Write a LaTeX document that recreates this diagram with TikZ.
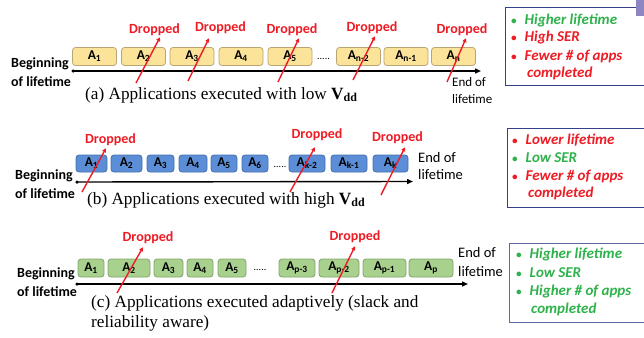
\documentclass[tikz,border=0pt]{standalone}
\usepackage{fontspec}
\setmainfont{Liberation Serif}
\newfontfamily\calib{Carlito}
\usetikzlibrary{arrows.meta}
\definecolor{dropred}{HTML}{EE1C25}
\definecolor{goodgreen}{HTML}{2EB24B}
\definecolor{yfill}{HTML}{FBE39A}
\definecolor{ydraw}{HTML}{B9A672}
\definecolor{bfill}{HTML}{5B8ED6}
\definecolor{bdraw}{HTML}{4671AE}
\definecolor{gfill}{HTML}{A9D18E}
\definecolor{gdraw}{HTML}{7FA46A}
\definecolor{framec}{HTML}{34418A}
\definecolor{framec2}{HTML}{5A6A9E}
\definecolor{tabc}{HTML}{8E86C2}
\tikzset{
  app/.style={rounded corners=3pt, line width=0.8pt, inner sep=0pt,
    font=\calib\bfseries\fontsize{13.5}{13.5}\selectfont, text=black},
  yapp/.style={app, fill=yfill, draw=ydraw, minimum width=44pt, minimum height=18pt},
  bapp/.style={app, fill=bfill, draw=bdraw, minimum height=17pt},
  gapp/.style={app, fill=gfill, draw=gdraw, minimum height=18pt},
  drop/.style={font=\calib\bfseries\fontsize{14}{14}\selectfont, text=dropred, inner sep=1pt},
  droparrow/.style={draw=dropred, line width=1.4pt, -{Triangle[length=4pt,width=4pt]}},
  timeline/.style={line width=1.4pt, -{Triangle[length=6pt,width=5pt]}},
  startdot/.style={circle, fill=black, inner sep=0pt, minimum size=3.5pt},
  beginlbl/.style={font=\calib\bfseries\fontsize{14}{19}\selectfont, align=left, anchor=west, inner sep=0pt},
  endlbl/.style={font=\calib\fontsize{13}{17}\selectfont, align=left, anchor=west, inner sep=0pt},
  capt/.style={font=\fontsize{17.2}{20}\selectfont, anchor=west, inner sep=0pt, align=left},
  dots/.style={font=\calib\fontsize{10}{10}\selectfont, inner sep=0pt},
  infobox/.style={draw=framec, line width=1.1pt, fill=white},
  bul/.style={font=\calib\bfseries\itshape\fontsize{15}{18}\selectfont, anchor=west, inner sep=0pt},
}
\newcommand{\vdd}{\textbf{V}\raisebox{-0.3ex}{\fontsize{12}{12}\selectfont\bfseries dd}}
\newcommand{\bulitem}[1]{{\fontsize{11}{11}\selectfont\textbullet}\hspace{8pt}#1}
\begin{document}
\begin{tikzpicture}[x=1pt, y=-1pt]
\useasboundingbox (0,0) rectangle (644,337);
\clip (0,0) rectangle (644,337);
\fill[white] (0,0) rectangle (644,337);

% ---------------- (a) low Vdd ----------------
\node[yapp] (a1) at (94.5,56.5) {A\textsubscript{1}};
\node[yapp] (a2) at (143.5,56.5) {A\textsubscript{2}};
\node[yapp] (a3) at (192,56.5) {A\textsubscript{3}};
\node[yapp] (a4) at (241,56.5) {A\textsubscript{4}};
\node[yapp] (a5) at (290,56.5) {A\textsubscript{5}};
\node[dots] (adots) at (323.5,59) {.....};
\node[yapp] (an2) at (358.5,56.5) {A\textsubscript{n-2}};
\node[yapp] (an1) at (406,56.5) {A\textsubscript{n-1}};
\node[yapp] (an) at (453.5,56.5) {A\textsubscript{n}};

\node[startdot] (as) at (73,71) {};
\coordinate (ae) at (481,71);
\draw[timeline] (as.center) -- (ae);
\node[beginlbl] (ab) at (11,72.5) {Beginning\\of lifetime};
\node[endlbl] (aend) at (452,91) {End of\\lifetime};
\node[capt] (acap) at (85,95) {(a) Applications executed with low \vdd};

\node[drop] (ad1) at (154.5,30) {Dropped};
\node[drop] (ad2) at (220.5,28) {Dropped};
\node[drop] (ad3) at (292,30) {Dropped};
\node[drop] (ad4) at (372,28) {Dropped};
\node[drop] (ad5) at (462,30) {Dropped};
\coordinate (at1) at (136,83);
\coordinate (at2) at (188,81);
\coordinate (at3) at (278,82);
\coordinate (at4) at (353,80);
\coordinate (at5) at (447,82);
\draw[droparrow] (at1) -- ([xshift=5.5pt]ad1.south);
\draw[droparrow] (at2) -- ([xshift=-11.5pt,yshift=-3pt]ad2.south);
\draw[droparrow] (at3) -- ([xshift=7pt,yshift=-1pt]ad3.south);
\draw[droparrow] (at4) -- ([xshift=3pt,yshift=-1pt]ad4.south);
\draw[droparrow] (at5) -- ([xshift=4pt,yshift=-1pt]ad5.south);

\node[infobox, minimum width=160pt, minimum height=78pt, anchor=north west] (ia) at (505,7) {};
\fill[tabc] (636,0) rectangle (646,16);
\node[bul, text=goodgreen] (ia1) at (511,20) {\bulitem{Higher lifetime}};
\node[bul, text=dropred] (ia2) at (511,38) {\bulitem{High SER}};
\node[bul, text=dropred] (ia3) at (511,56) {\bulitem{Fewer \# of apps}};
\node[bul, text=dropred] (ia4) at (527,73) {completed};

% ---------------- (b) high Vdd ----------------
\node[bapp, minimum width=31pt] (b1) at (91.5,163.5) {A\textsubscript{1}};
\node[bapp, minimum width=31pt] (b2) at (126.5,163.5) {A\textsubscript{2}};
\node[bapp, minimum width=27pt] (b3) at (160.5,163.5) {A\textsubscript{3}};
\node[bapp, minimum width=28pt] (b4) at (193,163.5) {A\textsubscript{4}};
\node[bapp, minimum width=26pt] (b5) at (224,163.5) {A\textsubscript{5}};
\node[bapp, minimum width=26pt] (b6) at (255,163.5) {A\textsubscript{6}};
\node[dots] (bdots) at (280,167) {.....};
\node[bapp, minimum width=36pt] (bk2) at (307,163.5) {A\textsubscript{k-2}};
\node[bapp, minimum width=36pt] (bk1) at (349,163.5) {A\textsubscript{k-1}};
\node[bapp, minimum width=35pt] (bk) at (390.5,163.5) {A\textsubscript{k}};

\node[startdot] (bs) at (77,182) {};
\coordinate (be) at (413,181.5);
\draw[timeline] (bs.center) -- (be);
\node[beginlbl] (bb) at (15,184) {Beginning\\of lifetime};
\node[endlbl, font=\calib\fontsize{14.5}{17}\selectfont] (bend) at (418,166.5) {End of\\lifetime};
\node[capt] (bcap) at (87,200) {(b) Applications executed with high \vdd};

\node[drop] (bd1) at (110.5,140) {Dropped};
\node[drop] (bd2) at (317,135) {Dropped};
\node[drop] (bd3) at (397.5,138) {Dropped};
\coordinate (bt1) at (82,192);
\coordinate (bt2) at (290,192);
\coordinate (bt3) at (381,195);
\draw[droparrow] (bt1) -- ([xshift=-4.5pt,yshift=-1pt]bd1.south);
\draw[droparrow] (bt2) -- ([xshift=-2pt,yshift=-5pt]bd2.south);
\draw[droparrow] (bt3) -- ([xshift=7.5pt,yshift=-2pt]bd3.south);

\node[infobox, minimum width=160pt, minimum height=79pt, anchor=north west] (ib) at (507,128) {};
\node[bul, text=dropred] (ib1) at (512,140) {\bulitem{Lower lifetime}};
\node[bul, text=goodgreen] (ib2) at (512,158) {\bulitem{Low SER}};
\node[bul, text=dropred] (ib3) at (512,176) {\bulitem{Fewer \# of apps}};
\node[bul, text=dropred] (ib4) at (528,193) {completed};

% ---------------- (c) adaptive ----------------
\node[gapp, minimum width=26pt] (c1) at (91,268) {A\textsubscript{1}};
\node[gapp, minimum width=42pt] (c2) at (129,268) {A\textsubscript{2}};
\node[gapp, minimum width=29pt] (c3) at (168.5,268) {A\textsubscript{3}};
\node[gapp, minimum width=26pt] (c4) at (200,268) {A\textsubscript{4}};
\node[gapp, minimum width=28pt] (c5) at (232,268) {A\textsubscript{5}};
\node[dots] (cdots) at (260,270) {.....};
\node[gapp, minimum width=36pt] (cp3) at (297,268) {A\textsubscript{p-3}};
\node[gapp, minimum width=40pt] (cp2) at (339,268) {A\textsubscript{p-2}};
\node[gapp, minimum width=43pt] (cp1) at (384.5,268) {A\textsubscript{p-1}};
\node[gapp, minimum width=44pt] (cp) at (431,268) {A\textsubscript{p}};

\node[startdot] (cs) at (77,284) {};
\coordinate (ce) at (468,284);
\draw[timeline] (cs.center) -- (ce);
\node[beginlbl] (cb) at (17,282.5) {Beginning\\of lifetime};
\node[endlbl, font=\calib\fontsize{14.5}{19}\selectfont] (cend) at (458,262.5) {End of\\lifetime};
\node[capt] (ccap) at (91,313) {(c) Applications executed adaptively (slack and\\reliability aware)};

\node[drop] (cd1) at (148,238) {Dropped};
\node[drop] (cd2) at (355,237) {Dropped};
\coordinate (ct1) at (117,293);
\coordinate (ct2) at (332,293);
\draw[droparrow] (ct1) -- ([xshift=-5pt,yshift=-2pt]cd1.south);
\draw[droparrow] (ct2) -- ([xshift=0pt,yshift=-2pt]cd2.south);

\node[infobox, draw=framec2, minimum width=160pt, minimum height=79pt, anchor=north west] (ic) at (509,243) {};
\node[bul, text=goodgreen] (ic1) at (516,254) {\bulitem{Higher lifetime}};
\node[bul, text=goodgreen] (ic2) at (516,273) {\bulitem{Low SER}};
\node[bul, text=goodgreen] (ic3) at (516,291) {\bulitem{Higher \# of apps}};
\node[bul, text=goodgreen] (ic4) at (531,309) {completed};
\end{tikzpicture}
\end{document}
